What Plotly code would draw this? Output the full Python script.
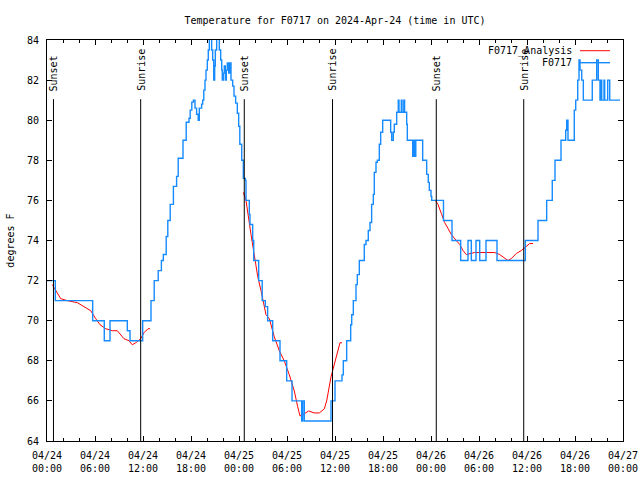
import plotly.graph_objects as go
from datetime import datetime, timedelta

START = datetime(2024, 4, 24)
X_END = datetime(2024, 4, 27)

TITLE = "Temperature for F0717 on 2024-Apr-24 (time in UTC)"
Y_TITLE = "degrees F"
OBS_NAME = "F0717"
ANA_NAME = "F0717_Analysis"

# Observed temperature (hours after 2024-04-24 00:00 UTC, deg F), step series
obs_hours = [0.0, 1.04, 5.71, 7.16, 7.875, 10.04, 10.375, 11.96, 13.0, 13.4, 13.9, 14.3, 14.54,
             14.9, 15.1, 15.4, 15.8, 16.2, 16.4, 17.0, 17.4, 17.75, 17.9, 18.1, 18.3, 18.5,
             18.7, 18.9, 19.04, 19.33, 19.46, 19.6, 19.75, 19.875, 20.04, 20.16, 20.29, 20.46,
             20.58, 20.71, 20.84, 20.96, 21.04, 21.21, 21.46, 21.54, 21.71, 21.84, 21.91, 22.04,
             22.16, 22.29, 22.41, 22.54, 22.71, 22.875, 23.0, 23.21, 23.375, 23.58, 23.79, 23.96,
             24.1, 24.34, 24.54, 24.79, 24.875, 25.29, 25.375, 25.71, 25.84, 26.46, 26.9, 27.29,
             27.58, 28.21, 29.125, 29.96, 30.625, 31.84, 31.96, 32.16, 35.5, 36.0, 36.875, 37.04,
             37.46, 37.96, 38.09, 38.29, 38.625, 38.79, 39.04, 39.66, 39.875, 40.16, 40.375, 40.58,
             40.79, 40.91, 41.125, 41.29, 41.54, 41.71, 41.96, 42.96, 43.09, 43.29, 43.41, 43.71,
             43.91, 44.0, 44.29, 44.375, 44.6, 44.7, 44.96, 45.04, 45.71, 45.83, 46.0, 46.1,
             46.96, 47.46, 47.66, 47.79, 48.0, 48.09, 49.56, 50.625, 51.71, 52.625,
             53.04, 53.625, 54.09, 54.875, 56.25, 59.79, 61.375, 62.46, 63.16, 63.5, 64.25, 64.84,
             64.96, 65.125, 65.91, 66.09, 66.34, 66.5, 66.625, 66.84, 67.04, 68.16, 68.71, 68.91,
             69.125, 69.25, 69.34, 69.625, 69.71, 70.09, 70.34, 71.625]
obs_temps = [72, 71, 70, 69, 70, 69.5, 69, 70, 71, 72, 72.5, 73, 73.3,
             74.2, 75, 75.8, 76.7, 77.2, 78.1, 79, 79.9, 80.1, 80.5, 80.9, 81, 80.6,
             80.3, 80, 80.6, 80.8, 81, 81.5, 82, 82.5, 83, 83.5, 84.3, 84.3,
             83.5, 83, 82, 82.7, 83.5, 84.3, 84.3, 83.5, 83, 82.5, 82, 82.35,
             82.7, 82, 82.5, 82.85, 82.35, 82.85, 82, 81.7, 81.2, 80.85, 80.35, 79.7,
             78.8, 78, 77.1, 77, 76, 75.3, 74.8, 74, 73, 72, 71, 70.7,
             70, 69, 68, 67, 66, 65, 66, 65, 66, 67, 67.3, 68,
             69, 69.8, 70.3, 71, 71.8, 72.3, 73, 73.8, 74, 74.5, 74.9, 75.8,
             76.3, 77.4, 77.9, 78, 78.8, 79.4, 80, 79.4, 79, 79.4, 79.8, 80.4,
             81, 80.4, 81, 80.4, 81, 80.4, 79.8, 79, 78.2, 79, 78.2, 79,
             78, 77.3, 76.9, 76.5, 76.2, 76, 75, 74, 73, 74,
             73, 74, 73, 74, 73, 74, 75, 76, 77, 78, 79, 79.5,
             80, 79, 80.5, 81, 82, 83, 82.5, 82, 81, 82, 83, 82,
             81, 82, 81, 82, 81, 82, 81, 81]

# Analysis temperature (three separate runs)
ana1_hours = [0.66, 1.09, 1.71, 2.54, 3.79, 4.625, 5.46, 6.09, 6.625, 7.34, 8.16, 8.79, 9.625,
              10.25, 10.66, 11.09, 11.71, 12.125, 12.625, 12.875]
ana1_temps = [71.8, 71.5, 71.1, 71.0, 70.9, 70.7, 70.5, 70.1, 69.8, 69.6, 69.5, 69.5, 69.1,
              69.0, 68.8, 68.9, 69.1, 69.4, 69.6, 69.6]
ana2_hours = [24.54, 24.875, 25.5, 25.9, 26.34, 26.75, 27.375, 27.79, 28.41, 29.04, 29.66, 30.29,
              30.91, 31.34, 31.625, 31.96, 32.7, 33.4, 34.04, 34.66, 34.96, 35.5, 36.125, 36.625,
              36.875]
ana2_temps = [76.4, 76.0, 74.3, 73.3, 72.2, 71.5, 70.3, 70.1, 69.2, 68.5, 68.0, 67.3,
              66.5, 65.7, 65.25, 65.3, 65.5, 65.4, 65.4, 65.6, 66.0, 67.2, 68.2, 68.9,
              68.9]
ana3_hours = [48.54, 48.875, 49.29, 49.7, 50.125, 50.54, 51.16, 51.59, 52.0, 52.41, 53.46, 54.71,
              55.96, 56.59, 57.21, 57.625, 58.04, 58.66, 59.29, 59.9, 60.34, 60.75]
ana3_temps = [76.0, 75.8, 75.35, 74.9, 74.6, 74.3, 74.0, 73.8, 73.5, 73.3, 73.4, 73.4,
              73.4, 73.3, 73.1, 73.0, 73.1, 73.35, 73.5, 73.7, 73.85, 73.85]

# Sunrise / sunset events
sun_hours = [0.81, 11.71, 24.66, 35.69, 48.66, 59.59]
sun_labels = ["Sunset", "Sunrise", "Sunset", "Sunrise", "Sunset", "Sunrise"]

Y_MIN, Y_MAX = 64, 84
SUN_LINE_TOP = 81.05

FONT = "DejaVu Sans Mono"
BLUE = "#168bff"
RED = "#ff0000"


def t(h):
    return None if h is None else START + timedelta(hours=h)


ana_x, ana_y = [], []
for hs, vs in ((ana1_hours, ana1_temps), (ana2_hours, ana2_temps), (ana3_hours, ana3_temps)):
    ana_x += [t(h) for h in hs] + [None]
    ana_y += list(vs) + [None]

fig = go.Figure()
fig.add_trace(go.Scatter(x=ana_x, y=ana_y, mode="lines", name=ANA_NAME,
                         line=dict(color=RED, width=1), connectgaps=False, showlegend=False))
fig.add_trace(go.Scatter(x=[t(h) for h in obs_hours], y=obs_temps, mode="lines", name=OBS_NAME,
                         line=dict(color=BLUE, width=1.4, shape="hv"), showlegend=False))

for h, lab in zip(sun_hours, sun_labels):
    fig.add_shape(type="line", xref="x", yref="y", x0=t(h), x1=t(h), y0=Y_MIN, y1=SUN_LINE_TOP,
                  line=dict(color="black", width=1))
    fig.add_annotation(x=t(h), y=SUN_LINE_TOP + 0.3, xref="x", yref="y", text=lab,
                       textangle=-90, showarrow=False, xanchor="center", yanchor="bottom",
                       font=dict(family=FONT, size=10, color="black"))

# hand-made gnuplot-style legend (text right, sample line left of it)
legend_items = [(ANA_NAME, RED, 0.9733), (OBS_NAME, BLUE, 0.9434)]
for name, col, yy in legend_items:
    fig.add_annotation(x=0.915, y=yy, xref="paper", yref="paper", text=name, showarrow=False,
                       xanchor="right", yanchor="middle",
                       font=dict(family=FONT, size=10, color="black"))
    fig.add_shape(type="line", xref="paper", yref="paper", x0=0.9253, x1=0.9774, y0=yy, y1=yy,
                  line=dict(color=col, width=1.4 if col == BLUE else 1))

fig.add_annotation(x=-0.064, y=0.5, xref="paper", yref="paper", text=Y_TITLE, textangle=-90,
                   showarrow=False, xanchor="center", yanchor="middle",
                   font=dict(family=FONT, size=10, color="black"))

fig.update_layout(
    width=640, height=480,
    margin=dict(l=47, r=17, t=40, b=39, autoexpand=False),
    paper_bgcolor="white", plot_bgcolor="white",
    font=dict(family=FONT, size=10, color="black"),
    title=dict(text=TITLE, x=0.5, xref="paper", y=1 - 20 / 480, yref="container",
               xanchor="center", yanchor="middle", font=dict(family=FONT, size=10, color="black")),
    showlegend=False,
)
fig.update_xaxes(
    type="date", range=[START, X_END], tick0=START, dtick=6 * 3600 * 1000,
    tickformat="%m/%d<br>%H:%M", ticks="inside", ticklen=5, tickcolor="black",
    ticklabelstandoff=5, automargin=False,
    minor=dict(dtick=2 * 3600 * 1000, ticks="inside", ticklen=3, tickcolor="black", showgrid=False),
    showline=True, linecolor="black", linewidth=1, mirror="ticks", showgrid=False, zeroline=False,
    tickfont=dict(family=FONT, size=10, color="black"),
)
fig.update_yaxes(
    range=[Y_MIN, Y_MAX], dtick=2, tick0=Y_MIN, ticks="inside", ticklen=5, tickcolor="black",
    ticklabelstandoff=5, automargin=False,
    showline=True, linecolor="black", linewidth=1, mirror="ticks", showgrid=False, zeroline=False,
    tickfont=dict(family=FONT, size=10, color="black"),
)

fig.write_html("out.html", config={"displayModeBar": False},
               post_script="document.body.style.margin='0';")
